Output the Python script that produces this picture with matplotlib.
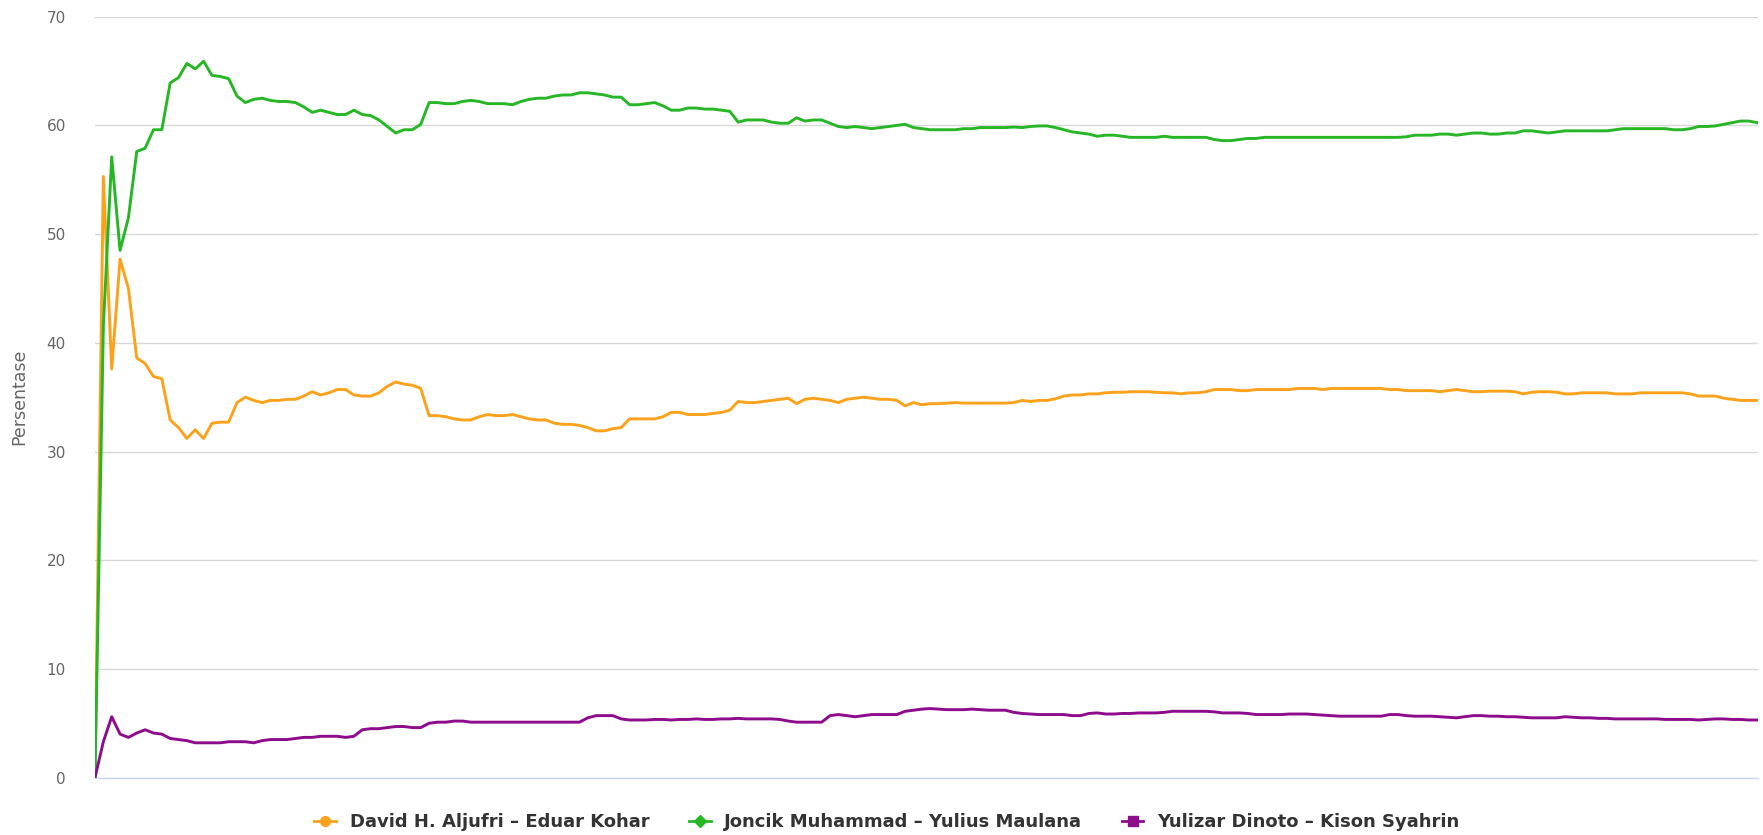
import matplotlib
matplotlib.use("Agg")
import matplotlib.pyplot as plt
from matplotlib.lines import Line2D
from matplotlib import font_manager

# ---------------- data ----------------
series_names = [
    "David H. Aljufri – Eduar Kohar",
    "Joncik Muhammad – Yulius Maulana",
    "Yulizar Dinoto – Kison Syahrin",
]

green = [
    0, 41.5, 57.1, 48.5, 51.5, 57.6, 57.9, 59.6, 59.6, 63.9,
    64.4, 65.7, 65.2, 65.9, 64.6, 64.5, 64.3, 62.7, 62.1, 62.4,
    62.5, 62.3, 62.2, 62.2, 62.1, 61.7, 61.2, 61.4, 61.2, 61.0,
    61.0, 61.4, 61.0, 60.9, 60.5, 59.9, 59.3, 59.6, 59.6, 60.1,
    62.1, 62.1, 62.0, 62.0, 62.2, 62.3, 62.2, 62.0, 62.0, 62.0,
    61.9, 62.2, 62.4, 62.5, 62.5, 62.7, 62.8, 62.8, 63.0, 63.0,
    62.9, 62.8, 62.6, 62.6, 61.9, 61.9, 62.0, 62.1, 61.8, 61.4,
    61.4, 61.6, 61.6, 61.5, 61.5, 61.4, 61.3, 60.3, 60.5, 60.5,
    60.5, 60.3, 60.2, 60.2, 60.7, 60.4, 60.5, 60.5, 60.2, 59.9,
    59.8, 59.9, 59.8, 59.7, 59.8, 59.9, 60.0, 60.1, 59.8, 59.7,
    59.6, 59.6, 59.6, 59.6, 59.7, 59.7, 59.8, 59.8, 59.8, 59.8,
    59.85, 59.8, 59.9, 59.95, 59.95, 59.8, 59.6, 59.4, 59.3, 59.2,
    59.0, 59.1, 59.1, 59.0, 58.9, 58.9, 58.9, 58.9, 59.0, 58.9,
    58.9, 58.9, 58.9, 58.9, 58.7, 58.6, 58.6, 58.7, 58.8, 58.8,
    58.9, 58.9, 58.9, 58.9, 58.9, 58.9, 58.9, 58.9, 58.9, 58.9,
    58.9, 58.9, 58.9, 58.9, 58.9, 58.9, 58.9, 58.95, 59.1, 59.1,
    59.1, 59.2, 59.2, 59.1, 59.2, 59.3, 59.3, 59.2, 59.2, 59.3,
    59.3, 59.5, 59.5, 59.4, 59.3, 59.4, 59.5, 59.5, 59.5, 59.5,
    59.5, 59.5, 59.6, 59.7, 59.7, 59.7, 59.7, 59.7, 59.7, 59.6,
    59.6, 59.7, 59.9, 59.9, 59.95, 60.1, 60.25, 60.4, 60.4, 60.25,
]

orange = [
    0, 55.3, 37.6, 47.7, 45.0, 38.6, 38.1, 36.9, 36.7, 32.9,
    32.2, 31.2, 32.0, 31.2, 32.6, 32.7, 32.7, 34.5, 35.0, 34.7,
    34.5, 34.7, 34.7, 34.8, 34.8, 35.1, 35.5, 35.2, 35.4, 35.7,
    35.7, 35.2, 35.1, 35.1, 35.4, 36.0, 36.4, 36.2, 36.1, 35.8,
    33.3, 33.3, 33.2, 33.0, 32.9, 32.9, 33.2, 33.4, 33.3, 33.3,
    33.4, 33.2, 33.0, 32.9, 32.9, 32.6, 32.5, 32.5, 32.4, 32.2,
    31.9, 31.9, 32.1, 32.2, 33.0, 33.0, 33.0, 33.0, 33.2, 33.6,
    33.6, 33.4, 33.4, 33.4, 33.5, 33.6, 33.8, 34.6, 34.5, 34.5,
    34.6, 34.7, 34.8, 34.9, 34.4, 34.8, 34.9, 34.8, 34.7, 34.5,
    34.8, 34.9, 35.0, 34.9, 34.8, 34.8, 34.7, 34.2, 34.5, 34.3,
    34.4, 34.4, 34.45, 34.5, 34.45, 34.45, 34.45, 34.45, 34.45, 34.45,
    34.5, 34.7, 34.6, 34.7, 34.7, 34.85, 35.1, 35.2, 35.2, 35.3,
    35.3, 35.4, 35.45, 35.45, 35.5, 35.5, 35.5, 35.45, 35.4, 35.4,
    35.3, 35.4, 35.4, 35.5, 35.7, 35.7, 35.7, 35.6, 35.6, 35.7,
    35.7, 35.7, 35.7, 35.7, 35.8, 35.8, 35.8, 35.7, 35.8, 35.8,
    35.8, 35.8, 35.8, 35.8, 35.8, 35.7, 35.7, 35.6, 35.6, 35.6,
    35.6, 35.5, 35.6, 35.7, 35.6, 35.5, 35.5, 35.55, 35.55, 35.55,
    35.5, 35.3, 35.45, 35.5, 35.5, 35.45, 35.3, 35.3, 35.4, 35.4,
    35.4, 35.4, 35.3, 35.3, 35.3, 35.4, 35.4, 35.4, 35.4, 35.4,
    35.4, 35.3, 35.1, 35.1, 35.1, 34.9, 34.8, 34.7, 34.7, 34.7,
]

purple = [
    0, 3.3, 5.6, 4.0, 3.7, 4.1, 4.4, 4.1, 4.0, 3.6,
    3.5, 3.4, 3.2, 3.2, 3.2, 3.2, 3.3, 3.3, 3.3, 3.2,
    3.4, 3.5, 3.5, 3.5, 3.6, 3.7, 3.7, 3.8, 3.8, 3.8,
    3.7, 3.8, 4.4, 4.5, 4.5, 4.6, 4.7, 4.7, 4.6, 4.6,
    5.0, 5.1, 5.1, 5.2, 5.2, 5.1, 5.1, 5.1, 5.1, 5.1,
    5.1, 5.1, 5.1, 5.1, 5.1, 5.1, 5.1, 5.1, 5.1, 5.5,
    5.7, 5.7, 5.7, 5.4, 5.3, 5.3, 5.3, 5.35, 5.35, 5.3,
    5.35, 5.35, 5.4, 5.35, 5.35, 5.4, 5.4, 5.45, 5.4, 5.4,
    5.4, 5.4, 5.35, 5.2, 5.1, 5.1, 5.1, 5.1, 5.7, 5.8,
    5.7, 5.6, 5.7, 5.8, 5.8, 5.8, 5.8, 6.1, 6.2, 6.3,
    6.35, 6.3, 6.25, 6.25, 6.25, 6.3, 6.25, 6.2, 6.2, 6.2,
    6.0, 5.9, 5.85, 5.8, 5.8, 5.8, 5.8, 5.7, 5.7, 5.9,
    5.95, 5.85, 5.85, 5.9, 5.9, 5.95, 5.95, 5.95, 6.0, 6.1,
    6.1, 6.1, 6.1, 6.1, 6.05, 5.95, 5.95, 5.95, 5.9, 5.8,
    5.8, 5.8, 5.8, 5.85, 5.85, 5.85, 5.8, 5.75, 5.7, 5.65,
    5.65, 5.65, 5.65, 5.65, 5.65, 5.8, 5.8, 5.7, 5.65, 5.65,
    5.65, 5.6, 5.55, 5.5, 5.6, 5.7, 5.7, 5.65, 5.65, 5.6,
    5.6, 5.55, 5.5, 5.5, 5.5, 5.5, 5.6, 5.55, 5.5, 5.5,
    5.45, 5.45, 5.4, 5.4, 5.4, 5.4, 5.4, 5.4, 5.35, 5.35,
    5.35, 5.35, 5.3, 5.35, 5.4, 5.4, 5.35, 5.35, 5.3, 5.3,
]

y_ticks = [0, 10, 20, 30, 40, 50, 60, 70]
y_label = "Persentase"

colors = ["#FBA21C", "#26B626", "#8C0C8C"]
markers = ["o", "D", "s"]

# ---------------- fonts ----------------
def has_font(name):
    try:
        font_manager.findfont(font_manager.FontProperties(family=name),
                              fallback_to_default=False)
        return True
    except Exception:
        return False

legend_family = "DejaVu Sans"
tick_family = "DejaVu Sans"

# ---------------- figure ----------------
W, H, DPI = 1763, 835, 100
fig = plt.figure(figsize=(W / DPI, H / DPI), dpi=DPI, facecolor="white")
ax = fig.add_axes([95 / W, 1 - 777.6 / H, (1758 - 95) / W, (777.6 - 16.7) / H])
ax.set_facecolor("white")

x = list(range(len(green)))
series = [orange, green, purple]
for vals, c in zip(series, colors):
    ax.plot(x, vals, color=c, lw=2.1, solid_joinstyle="round", zorder=3)

ax.set_xlim(0, len(green) - 1 + 0.1)
ax.set_ylim(0, 70)
ax.set_yticks(y_ticks)
ax.set_yticklabels([str(t) for t in y_ticks], fontsize=11, color="#666666",
                   family=tick_family)
ax.set_xticks([])
ax.tick_params(axis="y", length=0, pad=21)
ax.grid(axis="y", color="#D8D8D8", lw=1.0, zorder=0)
ax.set_axisbelow(True)
for s in ["top", "right", "left"]:
    ax.spines[s].set_visible(False)
ax.spines["bottom"].set_color("#CCD6EB")
ax.spines["bottom"].set_linewidth(1.0)

ax.set_ylabel(y_label, fontsize=12.5, color="#666666", family=tick_family)
ax.yaxis.set_label_coords((28 - 95) / (1758 - 95), 0.5)

handles = [
    Line2D([0], [0], color=c, lw=2.0, marker=m, markersize=7 if m != "D" else 6,
           markerfacecolor=c, markeredgecolor=c)
    for c, m in zip(colors, markers)
]
leg = fig.legend(handles, series_names, loc="center", ncol=3,
                 bbox_to_anchor=(0.503, 1 - 822 / H), frameon=False,
                 prop={"family": legend_family, "weight": "bold", "size": 13},
                 handlelength=1.2, handletextpad=0.75, columnspacing=2.2,
                 borderaxespad=0)
for t in leg.get_texts():
    t.set_color("#333333")

fig.savefig("out.png", dpi=DPI, facecolor="white")
